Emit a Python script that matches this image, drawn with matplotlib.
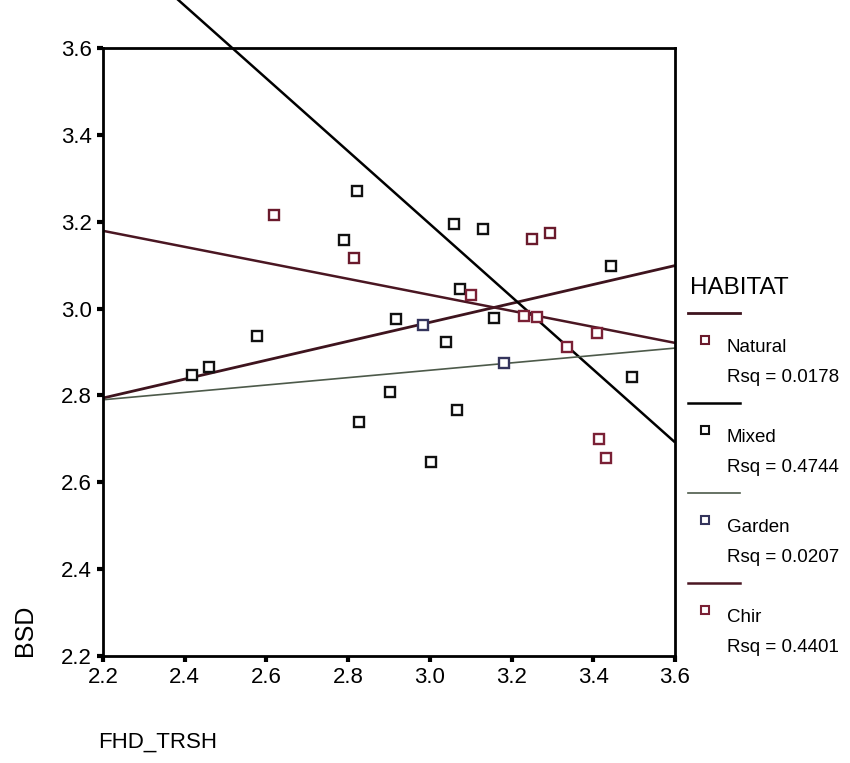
import matplotlib
matplotlib.use('Agg')
import matplotlib.pyplot as plt
from matplotlib.lines import Line2D

plt.rcParams['font.family'] = ['Liberation Sans', 'DejaVu Sans']

FIG_W, FIG_H = 850, 763

# groups, fit quality and colours
habitats = ['Natural', 'Mixed', 'Garden', 'Chir']
rsq = [0.0178, 0.4744, 0.0207, 0.4401]
marker_colors = ['#6a1a2c', '#111111', '#34345c', '#7a2035']
line_colors = ['#3e141e', '#000000', '#4d5a4a', '#4a1622']
line_widths = [2.0, 1.8, 1.2, 1.8]

# observations (FHD_TRSH, BSD) per habitat
natural_x = [2.618, 2.814, 3.250, 3.294]
natural_y = [3.215, 3.117, 3.161, 3.174]
mixed_x = [2.417, 2.460, 2.576, 2.790, 2.822, 2.826, 2.902, 2.916, 3.004,
           3.039, 3.058, 3.066, 3.075, 3.129, 3.156, 3.443, 3.494]
mixed_y = [2.847, 2.865, 2.936, 3.158, 3.270, 2.739, 2.807, 2.977, 2.647,
           2.924, 3.194, 2.766, 3.045, 3.183, 2.979, 3.099, 2.842]
garden_x = [2.984, 3.182]
garden_y = [2.962, 2.874]
chir_x = [3.101, 3.231, 3.263, 3.335, 3.409, 3.413, 3.431]
chir_y = [3.032, 2.984, 2.980, 2.912, 2.943, 2.699, 2.657]

# fitted line values at FHD_TRSH = 2.2 and 3.6
fit_x = [2.2, 3.6]
natural_fit = [2.794, 3.099]
mixed_fit = [3.865, 2.692]
garden_fit = [2.790, 2.909]
chir_fit = [3.179, 2.921]

ticks = [2.2, 2.4, 2.6, 2.8, 3.0, 3.2, 3.4, 3.6]

points = [(natural_x, natural_y), (mixed_x, mixed_y),
          (garden_x, garden_y), (chir_x, chir_y)]
fits = [natural_fit, mixed_fit, garden_fit, chir_fit]


def fx(px):
    return px / FIG_W


def fy(py):
    return 1 - py / FIG_H


fig = plt.figure(figsize=(FIG_W / 100, FIG_H / 100), dpi=100)
left, right, top, bottom = 103, 675, 48, 656
ax = fig.add_axes([fx(left), fy(bottom), fx(right) - fx(left), fy(top) - fy(bottom)])

# regression lines, the steep one runs out past the frame
for fit, col, lw in zip(fits, line_colors, line_widths):
    ax.plot(fit_x, fit, color=col, lw=lw, clip_on=False, zorder=2,
            solid_capstyle='butt')

for (xs, ys), col in zip(points, marker_colors):
    ax.plot(xs, ys, ls='none', marker='s', ms=7, mfc='white', mec=col,
            mew=1.7, zorder=3)

ax.set_xlim(2.2, 3.6)
ax.set_ylim(2.2, 3.6)
ax.set_xticks(ticks)
ax.set_yticks(ticks)
ax.set_xticklabels(['%.1f' % t for t in ticks])
ax.set_yticklabels(['%.1f' % t for t in ticks])
ax.tick_params(direction='out', length=4, width=3, labelsize=16, pad=4)
for s in ax.spines.values():
    s.set_linewidth(2)

fig.text(fx(25), fy(630), 'BSD', rotation=90, ha='center', va='center', fontsize=18)
fig.text(fx(98), fy(742), 'FHD_TRSH', ha='left', va='center', fontsize=16)

# legend block
fig.text(fx(690), fy(288), 'HABITAT', ha='left', va='center', fontsize=17.5)
for i, (name, r) in enumerate(zip(habitats, rsq)):
    dy = 90 * i
    fig.add_artist(Line2D([fx(688), fx(740)], [fy(313 + dy), fy(313 + dy)],
                          color=line_colors[i], lw=line_widths[i]))
    fig.add_artist(Line2D([fx(705)], [fy(340 + dy)], marker='s', ms=5.5,
                          mfc='white', mec=marker_colors[i], mew=1.5, ls='none'))
    fig.text(fx(727), fy(348 + dy), name, ha='left', va='center', fontsize=13.5)
    fig.text(fx(727), fy(378 + dy), 'Rsq = %.4f' % r, ha='left', va='center',
             fontsize=13.5)

fig.savefig('out.png', dpi=100)
